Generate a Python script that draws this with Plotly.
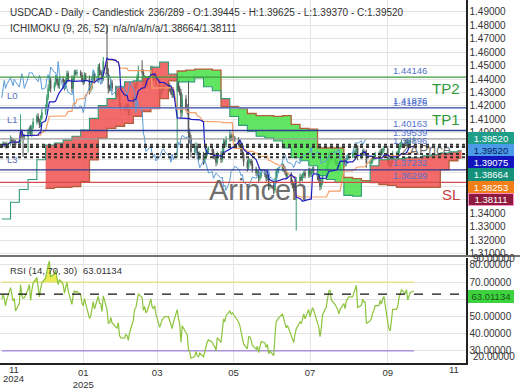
import plotly.graph_objects as go
import pandas as pd
import numpy as np

# ---------------- DATA ----------------
first_open = 1.3900
closes = [
    1.3905, 1.3920, 1.3912, 1.3898, 1.3915,
    1.3955, 1.3942, 1.3928, 1.3935, 1.3908,
    1.3930, 1.4005, 1.3978, 1.3970, 1.3972,
    1.4008, 1.4032, 1.3990, 1.4040, 1.4080,
    1.4120, 1.4090, 1.4060, 1.4110, 1.4150,
    1.4190, 1.4260, 1.4330, 1.4390, 1.4330,
    1.4360, 1.4410, 1.4380, 1.4350, 1.4400,
    1.4380, 1.4340, 1.4390, 1.4440, 1.4400,
    1.4330, 1.4408, 1.4450, 1.4442, 1.4450,
    1.4432, 1.4392, 1.4380, 1.4428, 1.4402,
    1.4322, 1.4335, 1.4402, 1.4432, 1.4392,
    1.4490, 1.4450, 1.4448, 1.4402, 1.4530,
    1.4440, 1.4332, 1.4330, 1.4372, 1.4330,
    1.4300, 1.4282, 1.4320, 1.4205, 1.4182,
    1.4180, 1.4200, 1.4192, 1.4150, 1.4190,
    1.4262, 1.4340, 1.4352, 1.4410, 1.4470,
    1.4450, 1.4372, 1.4402, 1.4360, 1.4372,
    1.4470, 1.4420, 1.4410, 1.4430, 1.4380,
    1.4280, 1.4310, 1.4330, 1.4340, 1.4350,
    1.4350, 1.4330, 1.4300, 1.4280, 1.4310,
    1.4380, 1.4330, 1.4300, 1.4150, 1.4250,
    1.4190, 1.4170, 1.4000, 1.3960, 1.3860,
    1.3870, 1.3900, 1.3840, 1.3820, 1.3840,
    1.3790, 1.3820, 1.3850, 1.3870, 1.3880,
    1.3860, 1.3830, 1.3820, 1.3780, 1.3840,
    1.3800, 1.3860, 1.3930, 1.3910, 1.3950,
    1.3980, 1.3960, 1.3970, 1.3960, 1.3950,
    1.3920, 1.3900, 1.3860, 1.3840, 1.3780,
    1.3740, 1.3790, 1.3790, 1.3770, 1.3730,
    1.3700, 1.3710, 1.3660, 1.3680, 1.3700,
    1.3690, 1.3660, 1.3670, 1.3600, 1.3610,
    1.3570, 1.3640, 1.3710, 1.3720, 1.3730,
    1.3750, 1.3730, 1.3710, 1.3680, 1.3690,
    1.3630, 1.3610, 1.3590, 1.3620, 1.3640,
    1.3670, 1.3660, 1.3680, 1.3700, 1.3680,
    1.3720, 1.3690, 1.3710, 1.3730, 1.3720,
    1.3670, 1.3650, 1.3600, 1.3630, 1.3690,
    1.3730, 1.3780, 1.3830, 1.3840, 1.3800,
    1.3780, 1.3770, 1.3760, 1.3740, 1.3760,
    1.3790, 1.3770, 1.3810, 1.3820, 1.3830,
    1.3830, 1.3850, 1.3860, 1.3890, 1.3820,
    1.3830, 1.3860, 1.3850, 1.3850, 1.3770,
    1.3780, 1.3790, 1.3810, 1.3820, 1.3840,
    1.3840, 1.3860, 1.3850, 1.3870, 1.3880,
    1.3800, 1.3770, 1.3760, 1.3790, 1.3840,
    1.3840, 1.3850, 1.3890, 1.3910, 1.3930,
    1.3920, 1.3940, 1.3910, 1.3930, 1.3945,
    1.3952,
]
# wick extensions beyond the body, in pips (0.0001)
wick_up = [
    12, 18, 10, 15, 20,
    25, 12, 14, 18, 10,
    15, 132, 20, 14, 18,
    22, 16, 25, 20, 28,
    18, 24, 15, 20, 30,
    20, 25, 28, 35, 22,
    18, 20, 15, 24, 16,
    20, 15, 22, 25, 18,
    28, 15, 20, 18, 22,
    16, 20, 14, 22, 18,
    25, 18, 20, 30, 15,
    22, 28, 16, 20, 35,
    270, 40, 25, 30, 20,
    22, 18, 30, 15, 20,
    16, 20, 18, 25, 14,
    20, 28, 18, 25, 30,
    70, 22, 28, 18, 20,
    30, 25, 18, 22, 16,
    20, 18, 22, 15, 25,
    18, 22, 15, 20, 26,
    30, 20, 18, 25, 40,
    30, 25, 230, 30, 25,
    28, 30, 20, 18, 22,
    18, 25, 22, 20, 16,
    20, 18, 15, 25, 20,
    22, 28, 30, 18, 25,
    36, 20, 18, 22, 15,
    18, 22, 20, 15, 18,
    20, 25, 18, 15, 22,
    16, 20, 18, 22, 15,
    18, 20, 15, 22, 16,
    20, 25, 22, 18, 15,
    22, 18, 20, 15, 18,
    16, 20, 18, 22, 30,
    25, 18, 20, 15, 22,
    20, 18, 22, 16, 20,
    18, 20, 15, 22, 25,
    22, 28, 25, 18, 20,
    18, 16, 20, 22, 15,
    20, 18, 22, 16, 20,
    18, 22, 20, 25, 18,
    20, 18, 22, 16, 25,
    18, 20, 16, 22, 18,
    20, 18, 22, 16, 20,
    18, 22, 16, 20, 25,
    20, 18, 25, 22, 18,
    20, 18, 22, 16, 20,
    18,
]
wick_dn = [
    15, 12, 20, 14, 18,
    12, 20, 15, 18, 22,
    18, 14, 25, 150, 20,
    120, 18, 15, 22, 16,
    20, 15, 25, 18, 14,
    18, 22, 15, 20, 30,
    20, 16, 22, 18, 25,
    18, 25, 16, 20, 22,
    30, 18, 22, 15, 20,
    22, 18, 25, 16, 20,
    35, 22, 18, 20, 25,
    18, 25, 20, 30, 16,
    25, 40, 22, 20, 25,
    22, 28, 20, 30, 18,
    20, 16, 22, 25, 18,
    15, 20, 18, 22, 16,
    22, 28, 18, 25, 20,
    16, 22, 25, 18, 28,
    30, 20, 18, 22, 16,
    20, 25, 18, 22, 20,
    500, 25, 22, 40, 30,
    30, 35, 200, 40, 45,
    30, 25, 35, 28, 22,
    30, 22, 18, 25, 20,
    22, 25, 20, 30, 18,
    25, 20, 18, 22, 20,
    18, 22, 20, 25, 18,
    22, 20, 25, 22, 30,
    30, 18, 22, 20, 25,
    22, 20, 28, 18, 20,
    20, 25, 18, 30, 22,
    30, 18, 20, 15, 22,
    18, 20, 22, 25, 18,
    22, 25, 28, 20, 350,
    25, 20, 22, 18, 20,
    18, 22, 20, 16, 20,
    25, 22, 30, 20, 18,
    20, 18, 22, 25, 20,
    22, 20, 18, 25, 20,
    18, 22, 20, 16, 20,
    20, 18, 22, 16, 25,
    18, 20, 22, 18, 30,
    22, 18, 20, 16, 20,
    18, 20, 22, 16, 20,
    25, 22, 20, 18, 16,
    20, 18, 22, 16, 20,
    18, 20, 22, 16, 18,
    20,
]

# Ichimoku cloud (weekly steps)
senkou_a = [
    1.3357, 1.3482, 1.3577, 1.3651, 1.3798, 1.3908, 1.3923, 1.3945, 1.3974, 1.4019,
    1.4107, 1.4202, 1.4254, 1.4342, 1.4379, 1.4386, 1.4416, 1.4489, 1.4526, 1.4437,
    1.4379, 1.4379, 1.4408, 1.4342, 1.4313, 1.4254, 1.4121, 1.4055, 1.4011, 1.3974,
    1.3960, 1.3938, 1.3886, 1.3813, 1.3791, 1.3754, 1.3680, 1.3651, 1.3629, 1.3533,
    1.3526, 1.3630, 1.3754, 1.3798, 1.3805, 1.3805, 1.3813, 1.3813, 1.3827, 1.3835,
    1.3849, 1.3857, 1.3866,
]
senkou_b = [
    None, None, None, None, None, 1.3585, 1.3592, 1.3592, 1.3599, 1.3636,
    1.3798, 1.3960, 1.4033, 1.4048, 1.4070, 1.4121, 1.4158, 1.4180, 1.4254, 1.4386,
    1.4460, 1.4467, 1.4474, 1.4474, 1.4467, 1.4195, 1.4195, 1.4180, 1.4143, 1.4128,
    1.4128, 1.4121, 1.4128, 1.4062, 1.4033, 1.4026, 1.3886, 1.3886, 1.3886, 1.3666,
    1.3658, 1.3643, 1.3629, 1.3614, 1.3607, 1.3592, 1.3592, 1.3592, 1.3592, 1.3592,
    1.3724, 1.3791, 1.3811,
]

level_prices = [1.44146, 1.41876, 1.41826, 1.40163, 1.39539, 1.37232, 1.36299]
level_colors = ["#3c9a3c", "#3a4b9e", "#8596cc", "#2e3d92", "#9a9a9a", "#2e3d92", "#d64b4b"]
dotted_prices = [1.3910, 1.3893, 1.3841, 1.3817]
level_label_text = ["1.44146", "1.41876", "1.41826", "1.40163", "1.39539", "1.38896", "1.37232", "1.36299"]

price_ticks = [round(1.31 + 0.01 * i, 2) for i in range(19)]
hidden_price_ticks = [1.35, 1.36, 1.37, 1.38, 1.39]   # covered by the value boxes
rsi_ticks = [30, 40, 50, 60, 70, 80]
rsi_seed_gain, rsi_seed_loss = 0.0009, 0.0006
rsi_last = "63.01134"

right_labels = ["1.39520", "1.39520", "1.39075", "1.38664", "1.38253", "1.38111"]
right_bg = ["#1f9e89", "#4a9be8", "#1414bf", "#13917a", "#f07f1a", "#8e1a3e"]
right_fg = ["#ffffff", "#0a1a60", "#ffffff", "#ffffff", "#ffffff", "#ffffff"]

month_ticks = ["2025-01-01", "2025-03-01", "2025-05-01", "2025-07-01", "2025-09-01"]
month_text = ["01<br>2025", "03", "05", "07", "09"]

# ---------------- BUILD ----------------
n = len(closes)
dates = pd.bdate_range("2024-10-28", periods=n)
c = np.array(closes)
o = np.array([first_open] + closes[:-1])
h = np.maximum(o, c) + np.array(wick_up) * 1e-4
l = np.minimum(o, c) - np.array(wick_dn) * 1e-4

hs, ls = pd.Series(h), pd.Series(l)
tenkan = (hs.rolling(9, min_periods=1).max() + ls.rolling(9, min_periods=1).min()) / 2
kijun = (hs.rolling(26, min_periods=1).max() + ls.rolling(26, min_periods=1).min()) / 2
chikou_x = dates[:n - 26]
chikou_y = c[26:]

ag, al = rsi_seed_gain, rsi_seed_loss
rsi = [100 - 100 / (1 + ag / al)]
for i in range(1, n):
    d = c[i] - c[i - 1]
    ag = (ag * 13 + max(d, 0)) / 14
    al = (al * 13 + max(-d, 0)) / 14
    rsi.append(100 - 100 / (1 + ag / al))
rsi = np.array(rsi)

cloud_dates = pd.date_range("2024-10-28", periods=len(senkou_a), freq="7D")
cloud_end = pd.Timestamp("2025-10-30")
edges = list(cloud_dates) + [cloud_end]

W, H = 466.0, 368.0
def px(xp):
    return xp / W
def py(yp):
    return 1 - yp / H

FONT = "Liberation Sans, Arial, sans-serif"

fig = go.Figure()

# cloud fills
red_x, red_y, grn_x, grn_y = [], [], [], []
for j, (a, b) in enumerate(zip(senkou_a, senkou_b)):
    if b is None:
        continue
    xs = [edges[j], edges[j + 1], edges[j + 1], edges[j], edges[j], None]
    ys = [a, a, b, b, a, None]
    if a >= b:
        red_x += xs; red_y += ys
    else:
        grn_x += xs; grn_y += ys
fig.add_trace(go.Scatter(x=red_x, y=red_y, fill="toself", fillcolor="rgba(240,80,80,0.85)",
                         line=dict(width=0), mode="lines", hoverinfo="skip", showlegend=False))
fig.add_trace(go.Scatter(x=grn_x, y=grn_y, fill="toself", fillcolor="rgba(70,225,70,0.85)",
                         line=dict(width=0), mode="lines", hoverinfo="skip", showlegend=False))
b_x = [d for d, b in zip(cloud_dates, senkou_b) if b is not None] + [cloud_end]
b_y = [b for b in senkou_b if b is not None] + [senkou_b[-1]]
fig.add_trace(go.Scatter(x=b_x, y=b_y, mode="lines", line=dict(color="#b4603c", width=1.3, shape="hv"),
                         showlegend=False, hoverinfo="skip"))
fig.add_trace(go.Scatter(x=edges, y=senkou_a + [senkou_a[-1]], mode="lines",
                         line=dict(color="#2f9a78", width=1.1, shape="hv"), showlegend=False, hoverinfo="skip"))

# candles
fig.add_trace(go.Candlestick(x=dates, open=o, high=h, low=l, close=c,
                             increasing=dict(line=dict(color="#3a9b6c", width=1), fillcolor="#3a9b6c"),
                             decreasing=dict(line=dict(color="#555555", width=1), fillcolor="#555555"),
                             whiskerwidth=0, showlegend=False, hoverinfo="skip"))

# ichimoku lines
fig.add_trace(go.Scatter(x=chikou_x, y=chikou_y, mode="lines", line=dict(color="#5b9bd8", width=1),
                         showlegend=False, hoverinfo="skip"))
fig.add_trace(go.Scatter(x=dates, y=kijun, mode="lines", line=dict(color="#f5a067", width=1.2),
                         showlegend=False, hoverinfo="skip"))
fig.add_trace(go.Scatter(x=dates, y=tenkan, mode="lines", line=dict(color="#1c1cc0", width=1.2),
                         showlegend=False, hoverinfo="skip"))

# RSI
rsi_top = np.maximum(rsi, 70)
fig.add_trace(go.Scatter(x=dates, y=[70] * n, mode="lines", line=dict(color="#e4e48c", width=1.5),
                         xaxis="x2", yaxis="y2", showlegend=False, hoverinfo="skip"))
fig.add_trace(go.Scatter(x=dates, y=rsi_top, mode="lines", line=dict(width=0), fill="tonexty",
                         fillcolor="rgba(230,230,40,0.8)", xaxis="x2", yaxis="y2", showlegend=False, hoverinfo="skip"))
fig.add_trace(go.Scatter(x=dates, y=[30] * n, mode="lines", line=dict(color="#a994dc", width=1.5),
                         xaxis="x2", yaxis="y2", showlegend=False, hoverinfo="skip"))
fig.add_trace(go.Scatter(x=dates, y=rsi, mode="lines", line=dict(color="#8cc43c", width=1.2),
                         xaxis="x2", yaxis="y2", showlegend=False, hoverinfo="skip"))

shapes = []
for p, col in zip(level_prices, level_colors):
    shapes.append(dict(type="line", xref="x domain", yref="y", x0=0, x1=1, y0=p, y1=p,
                       line=dict(color=col, width=1.3)))
for p in dotted_prices:
    shapes.append(dict(type="line", xref="x domain", yref="y", x0=0, x1=1, y0=p, y1=p,
                       line=dict(color="#333333", width=2, dash="dot")))
shapes.append(dict(type="line", xref="x2 domain", yref="y2", x0=0, x1=1, y0=float(rsi_last), y1=float(rsi_last),
                   line=dict(color="#111111", width=1.2, dash="dash")))
shapes.append(dict(type="line", xref="paper", yref="paper", x0=0, x1=520 / W, y0=py(259.5), y1=py(259.5),
                   line=dict(color="#444444", width=1.5)))

ann = []
def text(x, y, t, size=10, color="#333333", anchor="left", **kw):
    ann.append(dict(x=px(x), y=py(y), xref="paper", yref="paper", text=t, showarrow=False,
                    xanchor=anchor, yanchor="middle", font=dict(family=FONT, size=size, color=color), **kw))

text(8, 13, "USDCAD - Daily - Candlestick", 10)
text(145.5, 13, "236/289 - O:1.39445 - H:1.39625 - L:1.39370 - C:1.39520", 10)
text(8, 29, "ICHIMOKU (9, 26, 52)", 10)
text(110.5, 29, "n/a/n/a/n/a/1.38664/1.38111", 10)
text(8, 274, "RSI (14, 70, 30)", 9.5)
text(81, 274, rsi_last, 9.5)

text(258, 193, "Arincen", 29, "rgba(85,85,85,0.85)", "center")

for t, yy in zip(["L0", "L1", "L3"], [97, 121.5, 161.5]):
    text(5, yy, t, 9.5, "#5a6fb8")

for t, yy in zip(level_label_text, [71.7, 101.5, 103.5, 125.3, 134.7, 142.2, 165, 178.3]):
    text(410, yy, t, 9.5, "#5574cc", "center")

text(446, 90, "TP2", 15, "#2f9a3a", "center")
text(446, 121.5, "TP1", 15, "#2f9a3a", "center")
text(451, 197, "SL", 15, "#c64040", "center")
text(426, 152, "ZAPrice", 14, "rgba(70,70,70,0.75)", "center")

for t, bg, fg, yy in zip(right_labels, right_bg, right_fg, [140, 152.4, 164.8, 177.2, 189.6, 201.8]):
    ann.append(dict(x=px(467.5), y=py(yy), xref="paper", yref="paper", text=t, showarrow=False,
                    xanchor="left", yanchor="middle", bgcolor=bg, width=44, height=11, borderpad=0,
                    bordercolor="#ff8fc8" if bg == "#8e1a3e" else bg, borderwidth=1,
                    font=dict(family=FONT, size=9.5, color=fg)))
ann.append(dict(x=px(467.5), y=py(300.5), xref="paper", yref="paper", text=rsi_last, showarrow=False,
                xanchor="left", yanchor="middle", bgcolor="#3fd23f", width=44, height=11, borderpad=0,
                bordercolor="#3fd23f", borderwidth=1,
                font=dict(family=FONT, size=9.5, color="#135a13")))
text(471, 262, "90.00000", 10, "#333333")
text(471, 361.5, "20.00000", 10, "#333333")
text(13.5, 375, "11", 9.5, "#333333", "center")
text(13.5, 384, "2024", 9.5, "#333333", "center")
text(454, 375, "11", 9.5, "#333333", "center")

price_text = ["" if t in hidden_price_ticks else f"{t:.5f}" for t in price_ticks]
rsi_text = ["" if t == 60 else f"{t:.5f}" for t in rsi_ticks]

x_range = ["2024-10-26 14:00", "2025-11-02 12:00"]
fig.update_layout(
    width=520, height=390, margin=dict(l=0, r=54, t=0, b=22),
    paper_bgcolor="white", plot_bgcolor="white", showlegend=False,
    font=dict(family=FONT, size=10, color="#333333"),
    xaxis=dict(domain=[0, 1], anchor="y", range=x_range, rangeslider=dict(visible=False),
               tickvals=month_ticks, showticklabels=False, showgrid=True, gridcolor="#e4e4e4",
               zeroline=False, showline=False),
    xaxis2=dict(domain=[0, 1], anchor="y2", range=x_range, matches="x", tickvals=month_ticks,
                ticktext=month_text, showgrid=True, gridcolor="#e4e4e4", ticks="", showline=True,
                linecolor="#222222", linewidth=1.5, tickfont=dict(size=9.5, color="#333333"), zeroline=False),
    yaxis=dict(domain=[1 - 259 / H, 1], range=[1.3085, 1.4989], side="right", tickvals=price_ticks,
               ticktext=price_text, showgrid=True, gridcolor="#e4e4e4", showline=True, linecolor="#222222",
               linewidth=1.5, ticks="", tickfont=dict(size=10, color="#333333"), zeroline=False),
    yaxis2=dict(domain=[0, (H - 262) / H], range=[22.9, 83.8], side="right", tickvals=rsi_ticks,
                ticktext=rsi_text, showgrid=True, gridcolor="#e4e4e4", showline=True, linecolor="#222222",
                linewidth=1.5, ticks="", tickfont=dict(size=10, color="#333333"), zeroline=False),
    shapes=shapes, annotations=ann,
)
fig.write_html("out.html", config={"displayModeBar": False, "staticPlot": True},
               post_script="document.body.style.margin='0px';document.body.style.overflow='hidden';")
